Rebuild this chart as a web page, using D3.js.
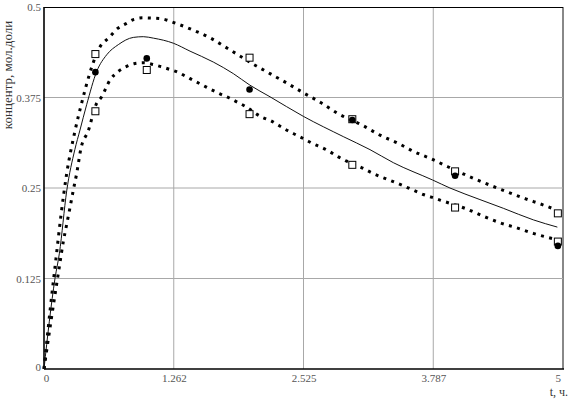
<!DOCTYPE html>
<html><head><meta charset="utf-8">
<script src="https://cdn.jsdelivr.net/npm/d3@7"></script>
<style>body{margin:0;background:#fff}svg{display:block}svg text{font-family:"Liberation Serif",serif}</style>
</head><body>
<svg id="c" width="570" height="401"></svg>
<script>
// ---- data ----
const xTickValues = [0, 1.2625, 2.525, 3.7875, 5];
const xTickLabels = ["0", "1.262", "2.525", "3.787", "5"];
const yTickValues = [0, 0.125, 0.25, 0.375, 0.5];
const yTickLabels = ["0", "0.125", "0.25", "0.375", "0.5"];
const xGrid = [1.2625, 2.525, 3.7875, 5.05];
const yGrid = [0.125, 0.25, 0.375];

// model curve (solid)
const modelT = [0, 0.052, 0.107, 0.15, 0.221, 0.30, 0.35, 0.415, 0.513, 0.61, 0.723, 0.869, 0.966, 1.064, 1.258, 1.421, 1.647, 1.842, 2.004, 2.199, 2.523, 2.912, 3.172, 3.399, 3.782, 3.95, 4.242, 4.469, 4.761, 4.995];
const modelV = [0, 0.066, 0.125, 0.160, 0.246, 0.303, 0.330, 0.365, 0.411, 0.434, 0.448, 0.458, 0.459, 0.457, 0.450, 0.439, 0.424, 0.408, 0.392, 0.376, 0.349, 0.321, 0.303, 0.285, 0.261, 0.250, 0.234, 0.222, 0.206, 0.196];

// upper confidence (dotted)
const upperT = [0, 0.06, 0.117, 0.165, 0.221, 0.302, 0.382, 0.406, 0.545, 0.635, 0.713, 0.798, 0.876, 0.963, 1.129, 1.291, 1.453, 1.622, 1.784, 2.037, 2.199, 2.362, 2.53, 2.692, 2.858, 3.107, 3.269, 3.442, 3.603, 3.772, 3.934, 4.184, 4.356, 4.518, 4.687, 4.849, 4.98];
const upperV = [0, 0.082, 0.153, 0.212, 0.270, 0.329, 0.376, 0.389, 0.445, 0.458, 0.470, 0.477, 0.483, 0.485, 0.484, 0.477, 0.468, 0.457, 0.443, 0.421, 0.408, 0.395, 0.381, 0.368, 0.353, 0.336, 0.323, 0.312, 0.300, 0.290, 0.279, 0.263, 0.253, 0.244, 0.235, 0.227, 0.220];

// lower confidence (dotted)
const lowerT = [0, 0.07, 0.149, 0.188, 0.221, 0.253, 0.285, 0.318, 0.36, 0.431, 0.506, 0.561, 0.642, 0.723, 0.805, 0.885, 0.966, 1.048, 1.129, 1.219, 1.301, 1.382, 1.462, 1.544, 1.625, 1.713, 1.793, 1.875, 1.956, 2.118, 2.206, 2.29, 2.374, 2.457, 2.54, 2.62, 2.702, 2.783, 2.864, 2.945, 3.107, 3.189, 3.269, 3.36, 3.448, 3.529, 3.61, 3.691, 3.778, 3.86, 4.113, 4.275, 4.437, 4.6, 4.768, 4.98];
const lowerV = [0, 0.068, 0.141, 0.176, 0.200, 0.223, 0.247, 0.270, 0.305, 0.329, 0.365, 0.376, 0.399, 0.411, 0.418, 0.422, 0.423, 0.421, 0.418, 0.414, 0.410, 0.404, 0.398, 0.392, 0.386, 0.380, 0.375, 0.369, 0.363, 0.348, 0.343, 0.336, 0.329, 0.323, 0.317, 0.311, 0.306, 0.300, 0.293, 0.287, 0.277, 0.271, 0.266, 0.261, 0.256, 0.251, 0.246, 0.241, 0.237, 0.233, 0.221, 0.211, 0.202, 0.195, 0.187, 0.179];

// experimental points
const circleT = [0.5, 1, 2, 3, 4, 5];
const circleV = [0.410, 0.429, 0.386, 0.344, 0.267, 0.170];
const squareT = [0.5, 0.5, 1, 2, 2, 3, 3, 4, 4, 5, 5];
const squareV = [0.435, 0.356, 0.413, 0.430, 0.352, 0.345, 0.282, 0.273, 0.223, 0.215, 0.176];

// ---- chart ----
const svg = d3.select("#c");
const L = 44, R = 563, T = 7, B = 369;
const x = d3.scaleLinear().domain([0, 5.05]).range([L, R]);
const y = d3.scaleLinear().domain([0, 0.5]).range([B, T]);
const font = "Liberation Serif";

// grid
svg.append("g").selectAll("line").data(xGrid).join("line")
  .attr("x1", d => x(d)).attr("x2", d => x(d)).attr("y1", T).attr("y2", B)
  .attr("stroke", d => d === 5.05 ? "#888" : "#a8a8a8").attr("stroke-width", d => d === 5.05 ? 2 : 1);
svg.append("g").selectAll("line").data(yGrid).join("line")
  .attr("x1", L).attr("x2", R).attr("y1", d => y(d)).attr("y2", d => y(d))
  .attr("stroke", "#a8a8a8").attr("stroke-width", 1);

// frame
svg.append("line").attr("x1", L).attr("x2", R).attr("y1", T + 0.5).attr("y2", T + 0.5).attr("stroke", "#000").attr("stroke-width", 1.2);
svg.append("line").attr("x1", L).attr("x2", L).attr("y1", T).attr("y2", B).attr("stroke", "#000").attr("stroke-width", 1.6);
svg.append("line").attr("x1", L).attr("x2", R + 1).attr("y1", B).attr("y2", B).attr("stroke", "#000").attr("stroke-width", 1.6);

// axes
const xa = svg.append("g").attr("transform", `translate(0,${B})`)
  .call(d3.axisBottom(x).tickValues(xTickValues).tickSize(0).tickPadding(5)
    .tickFormat((d, i) => xTickLabels[i]));
xa.attr("font-family", null);
xa.select(".domain").remove();
xa.selectAll("text").style("font-family", font).style("font-size", "11px").attr("fill", "#555");
xa.selectAll("text").filter((d, i) => i === 0).attr("dx", 2);

const ya = svg.append("g").attr("transform", `translate(${L},0)`)
  .call(d3.axisLeft(y).tickValues(yTickValues).tickSize(0).tickPadding(3)
    .tickFormat((d, i) => yTickLabels[i]));
ya.attr("font-family", null);
ya.select(".domain").remove();
ya.selectAll("text").style("font-family", font).style("font-size", "11px").attr("fill", "#555");
ya.selectAll("text").filter((d, i) => i === 0).attr("dy", "0.1em");

// axis titles
svg.append("text").attr("x", 568).attr("y", 396).attr("text-anchor", "end")
  .style("font-family", font).style("font-size", "12px").attr("fill", "#333").text("t, ч.");
svg.append("text").attr("transform", "translate(12,75) rotate(-90)").attr("text-anchor", "middle")
  .style("font-family", font).style("font-size", "13px").attr("fill", "#333").text("концентр, мол.доли");

// curves
const line = d3.line().x(d => x(d[0])).y(d => y(d[1])).curve(d3.curveMonotoneX);
const zip = (a, b) => a.map((v, i) => [v, b[i]]);
svg.append("path").datum(zip(upperT, upperV)).attr("d", line)
  .attr("fill", "none").attr("stroke", "#000").attr("stroke-width", 3).attr("stroke-dasharray", "3 5.4");
svg.append("path").datum(zip(lowerT, lowerV)).attr("d", line)
  .attr("fill", "none").attr("stroke", "#000").attr("stroke-width", 3).attr("stroke-dasharray", "3 5.4");
svg.append("path").datum(zip(modelT, modelV)).attr("d", line)
  .attr("fill", "none").attr("stroke", "#111").attr("stroke-width", 1);

// points
svg.append("g").selectAll("rect").data(zip(squareT, squareV)).join("rect")
  .attr("x", d => x(d[0]) - 3.5).attr("y", d => y(d[1]) - 3.5).attr("width", 7).attr("height", 7)
  .attr("fill", "#fff").attr("stroke", "#000").attr("stroke-width", 1);
svg.append("g").selectAll("circle").data(zip(circleT, circleV)).join("circle")
  .attr("cx", d => x(d[0])).attr("cy", d => y(d[1])).attr("r", 3.3).attr("fill", "#000");
</script>
</body></html>
